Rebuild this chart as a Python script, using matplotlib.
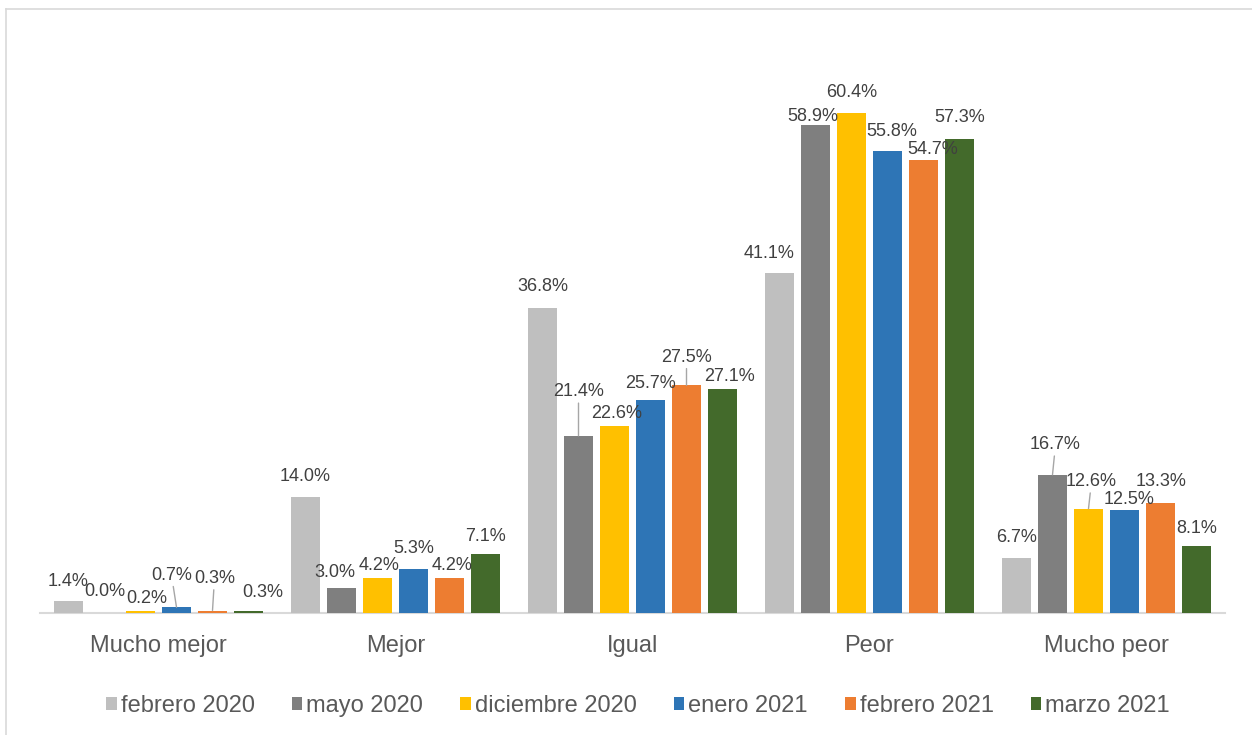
import matplotlib
matplotlib.use("Agg")
import matplotlib.pyplot as plt
from matplotlib.lines import Line2D
import numpy as np

plt.rcParams['font.family'] = ['Liberation Sans', 'DejaVu Sans']

# data (percent)
categories = ['Mucho mejor', 'Mejor', 'Igual', 'Peor', 'Mucho peor']
series_names = ['febrero 2020', 'mayo 2020', 'diciembre 2020',
                'enero 2021', 'febrero 2021', 'marzo 2021']
feb_2020 = [1.4, 14.0, 36.8, 41.1, 6.7]
may_2020 = [0.0, 3.0, 21.4, 58.9, 16.7]
dic_2020 = [0.2, 4.2, 22.6, 60.4, 12.6]
ene_2021 = [0.7, 5.3, 25.7, 55.8, 12.5]
feb_2021 = [0.3, 4.2, 27.5, 54.7, 13.3]
mar_2021 = [0.3, 7.1, 27.1, 57.3, 8.1]
series = [feb_2020, may_2020, dic_2020, ene_2021, feb_2021, mar_2021]

colors = ['#BFBFBF', '#7F7F7F', '#FFC000', '#2E75B6', '#ED7D31', '#436A2B']

# label placement (pixel offsets from bar top centre), per series then category
label_dx = [[0, 0, 0, -10, 0],
            [0, -7, 0, -3, 3],
            [6, 2, 2, 0, 3],
            [-5, 0, 0, 4, 5],
            [2, 3, 0, 9, 1],
            [14, 0, 7, 0, 0]]
label_dy = [[20, 21, 22, 19, 20],
            [21, 16, 44, 9, 30],
            [13, 13, 12, 20, 27],
            [32, 21, 17, 19, 10],
            [32, 13, 28, 11, 21],
            [18, 18, 12, 21, 17]]
leader = [[False, False, False, False, False],
          [False, False, True, False, True],
          [False, False, False, False, True],
          [True, False, False, False, False],
          [True, False, True, False, False],
          [False, False, False, False, False]]

fig = plt.figure(figsize=(12.52, 7.35), dpi=100)
ax = fig.add_axes([40 / 1252, 122 / 735, 1185 / 1252, 70 * 8.28 / 735])

x = np.arange(len(categories))
step = 36 / 237
width = 29 / 237
for i, (name, vals, col) in enumerate(zip(series_names, series, colors)):
    pos = x + (i - 2.5) * step
    ax.bar(pos, vals, width, color=col, linewidth=0, label=name, zorder=2)
    for j, v in enumerate(vals):
        arrow = None
        if leader[i][j]:
            arrow = dict(arrowstyle='-', color='#A6A6A6', lw=1,
                         shrinkA=0, shrinkB=0)
        ax.annotate(f'{v:.1f}%', xy=(pos[j], v),
                    xytext=(label_dx[i][j], label_dy[i][j]),
                    textcoords='offset pixels', ha='center', va='center',
                    fontsize=13, color='#404040', arrowprops=arrow, zorder=3)

ax.set_xlim(-0.5, 4.5)
ax.set_ylim(0, 70)
ax.set_xticks(x)
ax.set_xticklabels(categories, fontsize=17, color='#595959')
ax.tick_params(axis='x', length=0, pad=16)
ax.set_yticks([])
for s in ['top', 'right', 'left']:
    ax.spines[s].set_visible(False)
ax.spines['bottom'].set_color('#D9D9D9')
ax.spines['bottom'].set_linewidth(1.5)
ax.spines['bottom'].set_zorder(1)

leg = fig.legend(loc='center', bbox_to_anchor=(638 / 1252, 29 / 735), ncol=6,
                 frameon=False, fontsize=17, handlelength=0.45,
                 handleheight=0.5, handletextpad=0.17, columnspacing=1.57,
                 borderpad=0)
for t in leg.get_texts():
    t.set_color('#595959')

# chart area border (left and top edges visible)
fig.add_artist(Line2D([5.5 / 1252, 5.5 / 1252], [0, 1 - 8.5 / 735],
                      color='#D9D9D9', lw=1.2))
fig.add_artist(Line2D([5.5 / 1252, 1], [1 - 8.5 / 735, 1 - 8.5 / 735],
                      color='#D9D9D9', lw=1.2))

fig.savefig('out.png', dpi=100)
